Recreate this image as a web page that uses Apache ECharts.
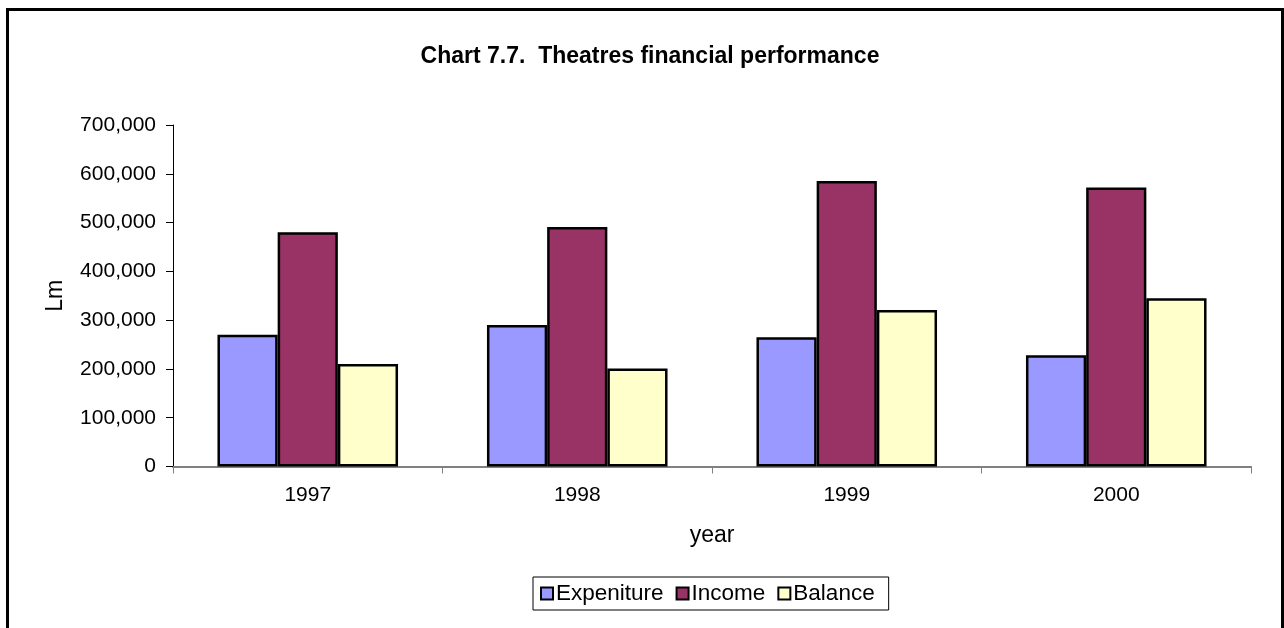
<!DOCTYPE html>
<html>
<head>
<meta charset="utf-8">
<script src="https://cdn.jsdelivr.net/npm/echarts@6/dist/echarts.min.js"></script>
<style>
  html, body { margin: 0; padding: 0; background: #fff; }
  #frame {
    position: absolute; left: 6px; top: 8px; width: 1272px; height: 640px;
    border-left: 3px solid #000; border-top: 3px solid #000; border-right: 3px solid #000;
  }
  #chart { position: absolute; left: 0; top: 0; width: 1284px; height: 628px; }
</style>
</head>
<body>
<div id="frame"></div>
<div id="chart"></div>
<script>
// Theatres financial performance, in Lm
const years = ['1997', '1998', '1999', '2000'];
const expenditure = [270000, 290000, 265000, 228000];
const income = [480000, 491000, 585000, 572000];
const balance = [210000, 201000, 321000, 345000];
const seriesNames = ['Expeniture', 'Income', 'Balance'];

const FONT = '"Liberation Sans", Arial, sans-serif';
const chart = echarts.init(document.getElementById('chart'));

const barStyle = (color) => ({ color: color, borderColor: '#000', borderWidth: 2.5 });

chart.setOption({
  animation: false,
  textStyle: { fontFamily: FONT, color: '#000' },
  title: {
    text: 'Chart 7.7.  Theatres financial performance',
    left: 645, top: 40, textAlign: 'center',
    textStyle: { fontFamily: FONT, fontSize: 23, fontWeight: 'bold', color: '#000' }
  },
  grid: { left: 173, right: 33, top: 125, bottom: 161.5, containLabel: false },
  legend: {
    left: 533, top: 577,
    data: seriesNames,
    icon: 'rect', itemWidth: 12, itemHeight: 12, itemGap: 12,
    padding: [5, 14, 5, 7],
    borderColor: '#000', borderWidth: 1,
    itemStyle: { borderColor: '#000', borderWidth: 2 },
    textStyle: { fontFamily: FONT, fontSize: 22.5, color: '#000', padding: [0, 0, 0, -2] }
  },
  xAxis: {
    type: 'category',
    data: years,
    name: 'year', nameLocation: 'middle', nameGap: 58,
    nameTextStyle: { fontFamily: FONT, fontSize: 23, color: '#000' },
    axisLine: { lineStyle: { color: '#808080', width: 2 } },
    axisTick: { show: true, length: 7, lineStyle: { color: '#808080', width: 1 } },
    axisLabel: { fontFamily: FONT, fontSize: 21, color: '#000', margin: 18 }
  },
  yAxis: {
    type: 'value', min: 0, max: 700000, interval: 100000,
    name: 'Lm', nameLocation: 'middle', nameGap: 106, nameRotate: 90,
    nameTextStyle: { fontFamily: FONT, fontSize: 23, color: '#000' },
    axisLine: { show: true, lineStyle: { color: '#000', width: 1 } },
    axisTick: { show: true, length: 7, lineStyle: { color: '#000', width: 1 } },
    splitLine: { show: false },
    axisLabel: {
      fontFamily: FONT, fontSize: 21, color: '#000', margin: 17,
      formatter: (v) => v.toLocaleString('en-US')
    }
  },
  series: [
    { name: seriesNames[0], type: 'bar', data: expenditure, itemStyle: barStyle('#9999FF'),
      barGap: '0%', barCategoryGap: '33%' },
    { name: seriesNames[1], type: 'bar', data: income, itemStyle: barStyle('#993366') },
    { name: seriesNames[2], type: 'bar', data: balance, itemStyle: barStyle('#FFFFCC') }
  ]
});
</script>
</body>
</html>
